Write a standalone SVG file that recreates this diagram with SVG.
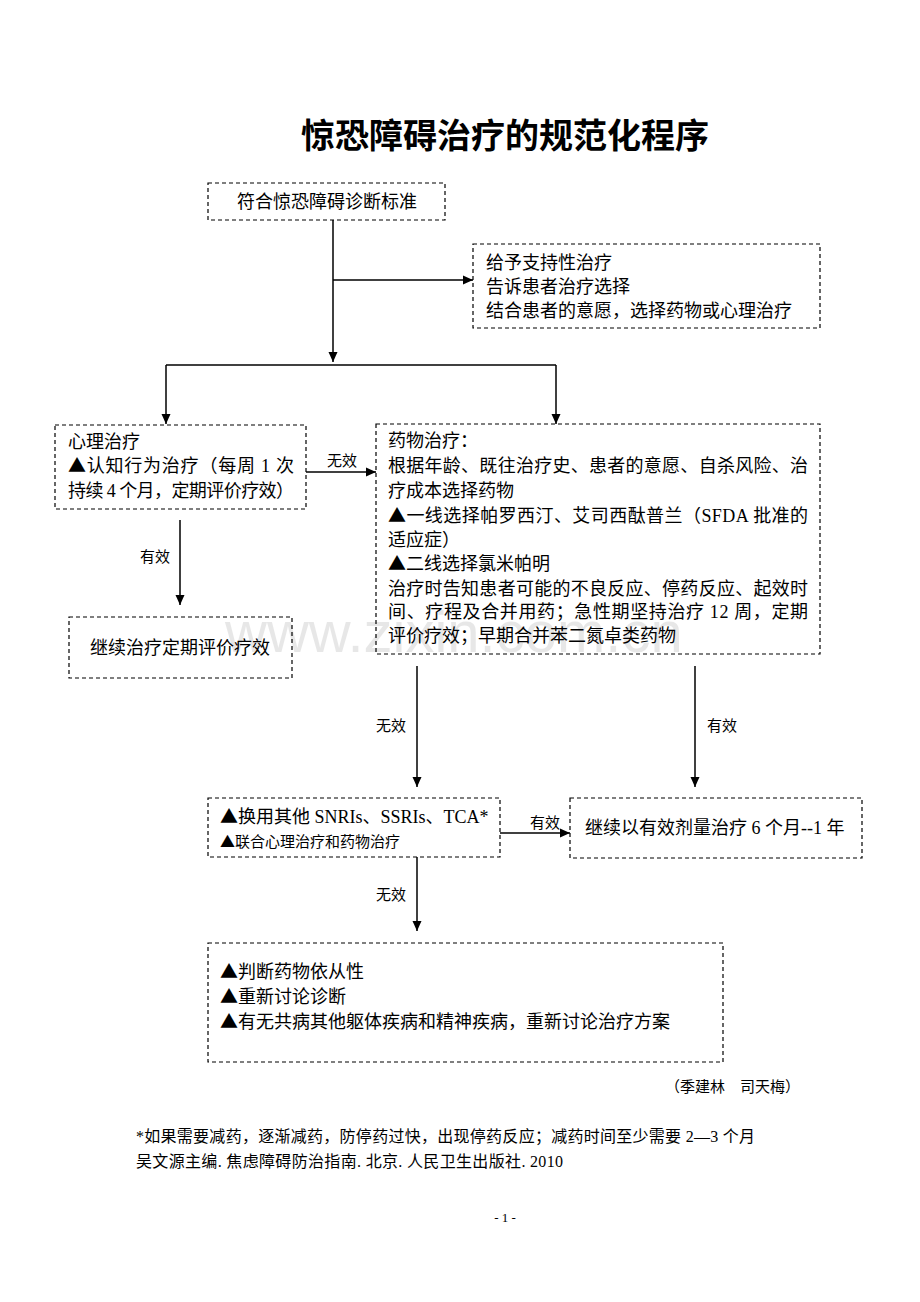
<svg xmlns="http://www.w3.org/2000/svg" width="920" height="1302" viewBox="0 0 920 1302">
<style>
.box{fill:none;stroke:#000;stroke-width:1.2;stroke-dasharray:4 3}
.ln{fill:none;stroke:#000;stroke-width:1.5}
.t{font-family:"Liberation Serif","Noto Sans CJK SC",serif;font-size:18px;fill:#000}
.s{font-family:"Liberation Serif","Noto Sans CJK SC",serif;font-size:15px;fill:#000}
.f{font-family:"Liberation Serif","Noto Sans CJK SC",serif;font-size:16px;fill:#000}
.tri{font-family:"Noto Sans CJK SC",sans-serif}
.title{font-family:"Liberation Serif","Noto Sans CJK SC",serif;font-size:34px;font-weight:bold;fill:#000}
.wm{font-family:"Liberation Sans",Arial,sans-serif;font-size:58px;fill:#000;opacity:0.09}
</style>
<defs>
<marker id="ah" markerUnits="userSpaceOnUse" markerWidth="10" markerHeight="10" refX="10" refY="5" orient="auto">
<path d="M0,0.5 L10,5 L0,9.5 z" fill="#000"/>
</marker>
</defs>
<rect width="920" height="1302" fill="#fff"/>
<text class="wm" x="225" y="652">www.zixin.com.cn</text>
<text class="title" x="505" y="148" text-anchor="middle">惊恐障碍治疗的规范化程序</text>

<g id="connectors">
<path class="ln" d="M333,220 V362" marker-end="url(#ah)"/>
<path class="ln" d="M333,280 H473" marker-end="url(#ah)"/>
<path class="ln" d="M166,365 H556"/>
<path class="ln" d="M166,365 V424" marker-end="url(#ah)"/>
<path class="ln" d="M556,365 V424" marker-end="url(#ah)"/>
<path class="ln" d="M306,472 H376" marker-end="url(#ah)"/>
<text class="s" x="342" y="466" text-anchor="middle">无效</text>
<path class="ln" d="M180,520 V605" marker-end="url(#ah)"/>
<text class="s" x="155" y="562" text-anchor="middle">有效</text>
<path class="ln" d="M417,666 V787" marker-end="url(#ah)"/>
<text class="s" x="391" y="731" text-anchor="middle">无效</text>
<path class="ln" d="M695,666 V787" marker-end="url(#ah)"/>
<text class="s" x="722" y="731" text-anchor="middle">有效</text>
<path class="ln" d="M500,833 H570" marker-end="url(#ah)"/>
<text class="s" x="545" y="828" text-anchor="middle">有效</text>
<path class="ln" d="M417,857 V931" marker-end="url(#ah)"/>
<text class="s" x="391" y="900" text-anchor="middle">无效</text>
</g>

<g id="n1">
<rect class="box" x="208" y="183" width="237" height="37"/>
<text class="t" x="327" y="208" text-anchor="middle">符合惊恐障碍诊断标准</text>
</g>

<g id="n2">
<rect class="box" x="473" y="244" width="347" height="84"/>
<text class="t" x="486" y="269">给予支持性治疗</text>
<text class="t" x="486" y="293">告诉患者治疗选择</text>
<text class="t" x="486" y="317">结合患者的意愿，选择药物或心理治疗</text>
</g>

<g id="n3">
<rect class="box" x="55" y="425" width="251" height="84"/>
<text class="t" x="68" y="448">心理治疗</text>
<text class="t" x="68" y="472" textLength="226" lengthAdjust="spacing"><tspan class="tri">▲</tspan>认知行为治疗（每周 1 次</text>
<text class="t" x="68" y="497" textLength="226" lengthAdjust="spacing">持续 4 个月，定期评价疗效）</text>
</g>

<g id="n4">
<rect class="box" x="376" y="424" width="444" height="230"/>
<text class="t" x="388" y="447">药物治疗：</text>
<text class="t" x="388" y="472" textLength="420" lengthAdjust="spacing">根据年龄、既往治疗史、患者的意愿、自杀风险、治</text>
<text class="t" x="388" y="497">疗成本选择药物</text>
<text class="t" x="388" y="522" textLength="420" lengthAdjust="spacing"><tspan class="tri">▲</tspan>一线选择帕罗西汀、艾司西酞普兰（SFDA 批准的</text>
<text class="t" x="388" y="546">适应症）</text>
<text class="t" x="388" y="570"><tspan class="tri">▲</tspan>二线选择氯米帕明</text>
<text class="t" x="388" y="595" textLength="420" lengthAdjust="spacing">治疗时告知患者可能的不良反应、停药反应、起效时</text>
<text class="t" x="388" y="618" textLength="420" lengthAdjust="spacing">间、疗程及合并用药；急性期坚持治疗 12 周，定期</text>
<text class="t" x="388" y="642">评价疗效；早期合并苯二氮卓类药物</text>
</g>

<g id="n5">
<rect class="box" x="69" y="617" width="223" height="61"/>
<text class="t" x="180" y="654" text-anchor="middle">继续治疗定期评价疗效</text>
</g>

<g id="n6">
<rect class="box" x="208" y="798" width="292" height="59"/>
<text class="t" x="220" y="823"><tspan class="tri">▲</tspan>换用其他 SNRIs、SSRIs、TCA*</text>
<text class="s" x="220" y="847"><tspan class="tri">▲</tspan>联合心理治疗和药物治疗</text>
</g>

<g id="n7">
<rect class="box" x="570" y="798" width="292" height="60"/>
<text class="t" x="585" y="834">继续以有效剂量治疗 6 个月--1 年</text>
</g>

<g id="n8">
<rect class="box" x="208" y="943" width="515" height="119"/>
<text class="t" x="220" y="978"><tspan class="tri">▲</tspan>判断药物依从性</text>
<text class="t" x="220" y="1003"><tspan class="tri">▲</tspan>重新讨论诊断</text>
<text class="t" x="220" y="1028"><tspan class="tri">▲</tspan>有无共病其他躯体疾病和精神疾病，重新讨论治疗方案</text>
</g>

<text class="s" x="800" y="1092" text-anchor="end">（季建林　司天梅）</text>
<text class="f" x="136" y="1142" textLength="619" lengthAdjust="spacing">*如果需要减药，逐渐减药，防停药过快，出现停药反应；减药时间至少需要 2—3 个月</text>
<text class="f" x="136" y="1167" textLength="427" lengthAdjust="spacing">吴文源主编. 焦虑障碍防治指南. 北京. 人民卫生出版社. 2010</text>
<text class="s" x="505" y="1222" text-anchor="middle" style="font-size:13px">- 1 -</text>
</svg>
